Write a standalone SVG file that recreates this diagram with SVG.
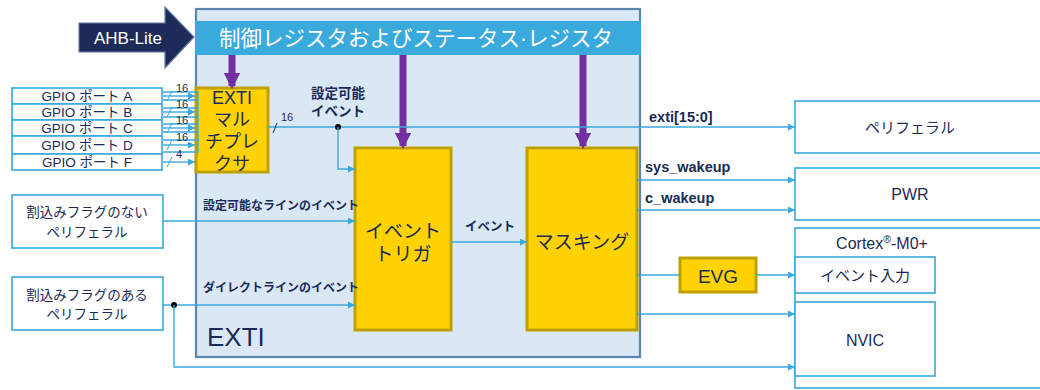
<svg xmlns="http://www.w3.org/2000/svg" width="1040" height="390" viewBox="0 0 1040 390">
<defs>
<style>
text{font-family:"Liberation Sans","Noto Sans CJK JP",sans-serif;fill:#1b2b57}
.box{fill:#fff;stroke:#3aa8dc;stroke-width:1.6}
.ylw{fill:#ffd200;stroke:#bfa000;stroke-width:3}
.ln{fill:none;stroke:#3aa8dc;stroke-width:1.4}
.lnA{fill:none;stroke:#3aa8dc;stroke-width:1.4;marker-end:url(#ah)}
.pp{stroke:#7030a0;stroke-width:7;marker-end:url(#ph)}
.lbl{font-size:12px;font-weight:bold}
.big{font-size:13.5px;font-weight:bold}
.sig{font-size:14.5px;font-weight:bold}
.c{text-anchor:middle}
</style>
<marker id="ah" viewBox="0 0 10 10" refX="10" refY="5" markerWidth="7" markerHeight="7" markerUnits="userSpaceOnUse" orient="auto"><path d="M0,0L10,5L0,10z" fill="#3aa8dc"/></marker>
<marker id="ph" viewBox="0 0 10 10" refX="8" refY="5" markerWidth="2.4" markerHeight="2.4" orient="auto"><path d="M0,0L10,5L0,10z" fill="#7030a0"/></marker>
</defs>

<!-- EXTI main block -->
<g id="exti">
<rect x="196" y="9" width="444" height="348" fill="#dae8f5" stroke="#5b87ae" stroke-width="2.2"/>
<text x="207" y="346" font-size="26">EXTI</text>
</g>

<g id="regs">
<rect x="195" y="21" width="446" height="34" fill="#3aaadc"/>
<text x="416" y="46" font-size="21.5" class="c" style="fill:#fff">制御レジスタおよびステータス·レジスタ</text>
</g>

<g id="ahb">
<polygon points="79,23 165,23 165,7 194,37 165,68 165,52 79,52" fill="#1e2b58" stroke="#5f7ba3" stroke-width="1.2"/>
<text x="128" y="44" font-size="17" class="c" style="fill:#fff">AHB-Lite</text>
</g>

<!-- GPIO ports -->
<g id="gpioA"><rect class="box" x="12" y="88" width="150" height="16"/><text x="87" y="101" font-size="13.5" class="c">GPIO ポート A</text></g>
<g id="gpioB"><rect class="box" x="12" y="104" width="150" height="16"/><text x="87" y="117" font-size="13.5" class="c">GPIO ポート B</text></g>
<g id="gpioC"><rect class="box" x="12" y="120" width="150" height="16"/><text x="87" y="133" font-size="13.5" class="c">GPIO ポート C</text></g>
<g id="gpioD"><rect class="box" x="12" y="136" width="150" height="18"/><text x="87" y="150" font-size="13.5" class="c">GPIO ポート D</text></g>
<g id="gpioF"><rect class="box" x="12" y="154" width="150" height="16"/><text x="87" y="167" font-size="13.5" class="c">GPIO ポート F</text></g>

<g id="periphNoFlag"><rect class="box" x="12" y="195" width="151" height="53"/><text x="87" y="217" font-size="13.5" class="c">割込みフラグのない</text><text x="87" y="237" font-size="13.5" class="c">ペリフェラル</text></g>
<g id="periphFlag"><rect class="box" x="12" y="277" width="151" height="53"/><text x="87" y="300" font-size="13.5" class="c">割込みフラグのある</text><text x="87" y="319" font-size="13.5" class="c">ペリフェラル</text></g>

<!-- internal blocks -->
<g id="mux"><rect class="ylw" x="196" y="88" width="72" height="84"/>
<text x="232" y="104" font-size="18" class="c">EXTI</text>
<text x="232" y="126" font-size="18" class="c">マル</text>
<text x="232" y="148" font-size="18" class="c">チプレ</text>
<text x="232" y="170" font-size="18" class="c">クサ</text></g>

<g id="trigger"><rect class="ylw" x="355" y="148" width="96" height="182"/>
<text x="403" y="238" font-size="19" class="c">イベント</text>
<text x="403" y="261" font-size="19" class="c">トリガ</text></g>

<g id="masking"><rect class="ylw" x="527" y="148" width="110" height="182"/>
<text x="582" y="249" font-size="19" class="c">マスキング</text></g>

<g id="evg"><rect class="ylw" x="680" y="258" width="76" height="34"/>
<text x="718" y="283" font-size="19" class="c">EVG</text></g>

<!-- right side -->
<g id="periph"><rect class="box" x="795" y="101" width="260" height="52"/><text x="910" y="133" font-size="15" class="c">ペリフェラル</text></g>
<g id="pwr"><rect class="box" x="795" y="168" width="260" height="52"/><text x="910" y="200" font-size="16" class="c">PWR</text></g>
<g id="cortex"><rect class="box" x="795" y="228" width="260" height="160"/><text x="882" y="249" font-size="16" class="c">Cortex<tspan font-size="10.5" dy="-6">®</tspan><tspan dy="6">-M0+</tspan></text></g>
<g id="evin"><rect class="box" x="795" y="257" width="140" height="36"/><text x="865" y="281" font-size="15" class="c">イベント入力</text></g>
<g id="nvic"><rect class="box" x="795" y="302" width="140" height="74"/><text x="865" y="346" font-size="16" class="c">NVIC</text></g>

<!-- connectors -->
<g id="connectors">
<line class="pp" x1="232" y1="55" x2="232" y2="86"/>
<line class="pp" x1="403" y1="55" x2="403" y2="146"/>
<line class="pp" x1="583" y1="55" x2="583" y2="146"/>

<!-- GPIO buses -->
<path class="ln" d="M163,92H198V100H163M163,108H198V117H163M163,124H198V132H163M163,140H198V152H163M198,92V152"/>
<line class="lnA" x1="163" y1="96" x2="195" y2="96"/>
<line class="lnA" x1="163" y1="112" x2="195" y2="112"/>
<line class="lnA" x1="163" y1="128" x2="195" y2="128"/>
<line class="lnA" x1="163" y1="145" x2="195" y2="145"/>
<line class="lnA" x1="163" y1="162" x2="195" y2="162"/>
<g stroke="#3aa8dc" stroke-width="1">
<line x1="167" y1="101" x2="172" y2="91"/>
<line x1="167" y1="117" x2="172" y2="107"/>
<line x1="167" y1="133" x2="172" y2="123"/>
<line x1="167" y1="150" x2="172" y2="140"/>
<line x1="167" y1="167" x2="172" y2="157"/>
</g>
<g font-size="11">
<text x="176" y="92">16</text>
<text x="176" y="108">16</text>
<text x="176" y="124">16</text>
<text x="176" y="141">16</text>
<text x="176" y="158">4</text>
</g>

<!-- mux output -->
<line class="lnA" x1="268" y1="127" x2="795" y2="127"/>
<line x1="273" y1="133" x2="277" y2="123" stroke="#1b2b57" stroke-width="1"/>
<text x="281" y="121" font-size="11">16</text>
<circle cx="338" cy="127" r="3" fill="#000"/>
<path class="lnA" d="M338,127V169H355"/>
<text x="338" y="98" class="big c">設定可能</text>
<text x="338" y="116" class="big c">イベント</text>
<text x="649" y="122" class="sig">exti[15:0]</text>

<!-- event lines -->
<line class="lnA" x1="163" y1="221" x2="355" y2="221"/>
<text x="203" y="210" class="lbl">設定可能なラインのイベント</text>
<line class="lnA" x1="163" y1="305" x2="355" y2="305"/>
<text x="203" y="292" class="lbl">ダイレクトラインのイベント</text>
<circle cx="174" cy="305" r="3" fill="#000"/>
<path class="lnA" d="M174,305V367H795"/>

<line class="lnA" x1="451" y1="242" x2="527" y2="242"/>
<text x="490" y="231" class="lbl c" style="font-size:12.5px">イベント</text>

<!-- masking outputs -->
<line class="lnA" x1="637" y1="180" x2="795" y2="180"/>
<text x="645" y="172" class="sig">sys_wakeup</text>
<line class="lnA" x1="637" y1="210" x2="795" y2="210"/>
<text x="645" y="203" class="sig">c_wakeup</text>
<line class="ln" x1="637" y1="275" x2="680" y2="275"/>
<line class="lnA" x1="756" y1="275" x2="795" y2="275"/>
<line class="lnA" x1="637" y1="314" x2="795" y2="314"/>
</g>
</svg>
